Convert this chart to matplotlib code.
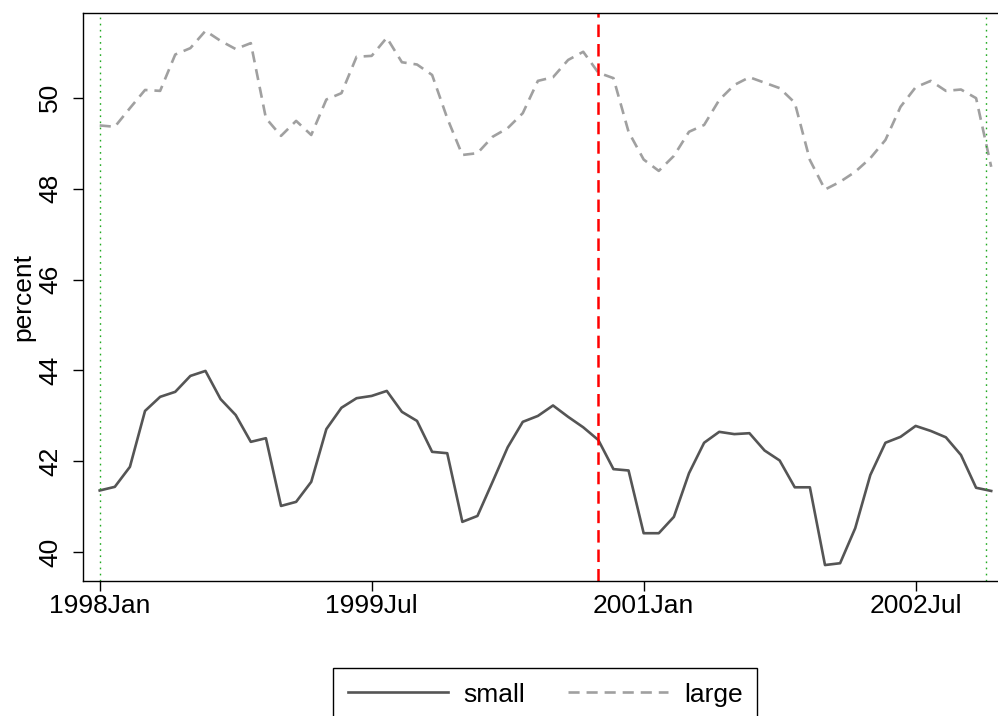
import matplotlib
matplotlib.use("Agg")
import matplotlib.pyplot as plt
import numpy as np

plt.rcParams['font.family'] = ['Liberation Sans', 'DejaVu Sans']
plt.rcParams['lines.scale_dashes'] = False

# monthly series, 1998Jan .. 2002Dec
small = [41.36, 41.44, 41.88, 43.11, 43.42, 43.53, 43.88, 43.99, 43.37, 43.02,
         42.43, 42.51, 41.02, 41.11, 41.55, 42.71, 43.18, 43.39, 43.44, 43.55,
         43.09, 42.89, 42.21, 42.18, 40.67, 40.80, 41.55, 42.31, 42.87, 43.00,
         43.23, 42.98, 42.75, 42.47, 41.83, 41.80, 40.42, 40.42, 40.78, 41.74,
         42.41, 42.65, 42.60, 42.62, 42.24, 42.02, 41.43, 41.43, 39.72, 39.76,
         40.53, 41.70, 42.41, 42.54, 42.78, 42.67, 42.53, 42.14, 41.42, 41.35]
large = [49.39, 49.36, 49.77, 50.17, 50.15, 50.95, 51.09, 51.47, 51.25, 51.07,
         51.20, 49.55, 49.16, 49.49, 49.18, 49.96, 50.10, 50.90, 50.92, 51.32,
         50.78, 50.73, 50.50, 49.55, 48.74, 48.78, 49.14, 49.33, 49.66, 50.37,
         50.45, 50.83, 51.01, 50.55, 50.43, 49.25, 48.64, 48.39, 48.72, 49.25,
         49.40, 49.95, 50.28, 50.45, 50.33, 50.21, 49.89, 48.63, 47.98, 48.15,
         48.37, 48.67, 49.07, 49.80, 50.23, 50.37, 50.15, 50.18, 49.99, 48.48]
months = np.arange(len(small))

tick_pos = [0, 18, 36, 54]
tick_labels = ['1998Jan', '1999Jul', '2001Jan', '2002Jul']
y_ticks = [40, 42, 44, 46, 48, 50]

break_month = 33        # red dashed marker
window = [0, 58.68]     # green dotted markers

fig = plt.figure(figsize=(9.98, 7.16), dpi=100)
ax = fig.add_axes([83 / 998, 1 - 581 / 716, 1 - 83 / 998, (581 - 13) / 716])

ax.plot(months, small, color='#555555', lw=1.9, label='small')
ax.plot(months, large, color='#a0a0a0', lw=1.9, dashes=(8, 5), label='large')

for w in window:
    ax.axvline(w, color='#22aa22', lw=1.0, dashes=(1.2, 3.2))
ax.axvline(break_month, color='red', lw=1.8, dashes=(9, 5))

ax.set_xlim(-1.105, 59.45)
ax.set_ylim(39.369, 51.863)
ax.set_xticks(tick_pos)
ax.set_xticklabels(tick_labels)
ax.set_yticks(y_ticks)
ax.set_yticklabels([str(v) for v in y_ticks], rotation=90, va='center')
ax.tick_params(axis='both', direction='out', length=7.2, width=1.0,
               labelsize=19, colors='black')
ax.tick_params(axis='x', pad=2.5)
ax.tick_params(axis='y', pad=8)
ax.set_ylabel('percent', fontsize=19, labelpad=2)

for s in ['left', 'top', 'bottom']:
    ax.spines[s].set_linewidth(1.0)
    ax.spines[s].set_color('black')
ax.spines['right'].set_visible(False)

leg = fig.legend(loc='upper center', bbox_to_anchor=(545 / 998, 1 - 668 / 716),
                 ncol=2, fontsize=19, frameon=True, fancybox=False,
                 edgecolor='black', framealpha=1, handlelength=3.8,
                 handletextpad=0.6, columnspacing=1.6, borderpad=0.55,
                 borderaxespad=0)
leg.get_frame().set_linewidth(1.0)

fig.savefig('out.png', dpi=100)
